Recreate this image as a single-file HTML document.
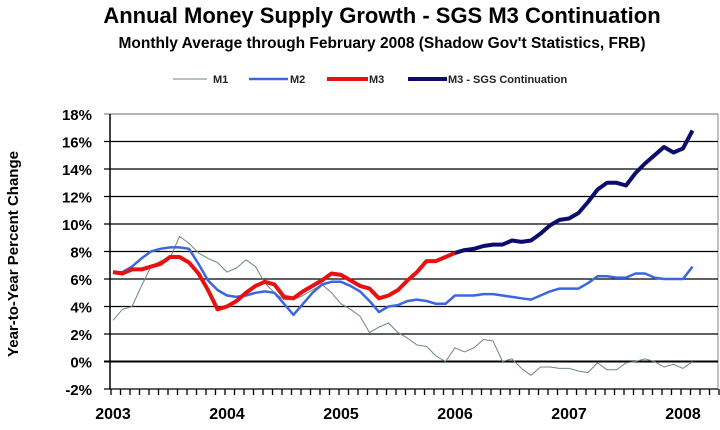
<!DOCTYPE html>
<html><head><meta charset="utf-8"><style>
body{margin:0;background:#fff;width:720px;height:425px;overflow:hidden;font-family:"Liberation Sans",Arial,sans-serif}
</style></head><body>
<svg id="chart" width="720" height="425" xmlns="http://www.w3.org/2000/svg" font-family="Liberation Sans, Arial, sans-serif">
<text x="382" y="23" text-anchor="middle" font-size="22" font-weight="bold">Annual Money Supply Growth - SGS M3 Continuation</text>
<text x="382" y="48" text-anchor="middle" font-size="15.5" font-weight="bold">Monthly Average through February 2008 (Shadow Gov't Statistics, FRB)</text>
<g id="legend" font-size="11" font-weight="bold" fill="#222">
<g><line x1="173" y1="79" x2="207" y2="79" stroke="#6a8a74" stroke-width="1"/><text x="213" y="83">M1</text></g>
<g><line x1="249" y1="79" x2="288" y2="79" stroke="#3a66e0" stroke-width="2.5"/><text x="290" y="83">M2</text></g>
<g><line x1="327" y1="79" x2="368" y2="79" stroke="#e81010" stroke-width="4"/><text x="369" y="83">M3</text></g>
<g><line x1="408" y1="79" x2="447" y2="79" stroke="#0c0c6e" stroke-width="4"/><text x="448" y="83">M3 - SGS Continuation</text></g>
</g>
<text transform="translate(18,254) rotate(-90)" text-anchor="middle" font-size="15" font-weight="bold">Year-to-Year Percent Change</text>
<g id="grid"></g><g id="axes"></g><g id="series"></g>
</svg>
<script>
const months = 62; // Jan 2003 .. Feb 2008
const yTicks = [-2,0,2,4,6,8,10,12,14,16,18];
const yearLabels = ["2003","2004","2005","2006","2007","2008"];
const m1 = [3.0,3.8,4.0,5.5,6.9,7.3,7.5,9.1,8.6,7.9,7.5,7.2,6.5,6.8,7.4,6.9,5.7,5.0,4.5,4.5,4.8,5.2,5.6,5.0,4.2,3.8,3.3,2.1,2.5,2.8,2.1,1.7,1.2,1.1,0.4,0.0,1.0,0.7,1.0,1.6,1.5,0.0,0.2,-0.5,-1.0,-0.4,-0.4,-0.5,-0.5,-0.7,-0.8,-0.1,-0.6,-0.6,-0.1,0.0,0.2,0.0,-0.4,-0.2,-0.5,0.0];
const m2 = [6.5,6.5,6.9,7.5,8.0,8.2,8.3,8.3,8.2,7.1,5.9,5.2,4.8,4.7,4.8,5.0,5.1,5.0,4.2,3.4,4.2,5.0,5.6,5.8,5.8,5.5,5.1,4.4,3.6,4.0,4.1,4.4,4.5,4.4,4.2,4.2,4.8,4.8,4.8,4.9,4.9,4.8,4.7,4.6,4.5,4.8,5.1,5.3,5.3,5.3,5.7,6.2,6.2,6.1,6.1,6.4,6.4,6.1,6.0,6.0,6.0,6.9];
const m3 = [6.5,6.4,6.7,6.7,6.9,7.1,7.6,7.6,7.2,6.4,5.2,3.8,4.0,4.4,5.0,5.5,5.8,5.6,4.7,4.6,5.1,5.5,5.9,6.4,6.3,5.9,5.5,5.3,4.6,4.8,5.2,5.9,6.5,7.3,7.3,7.6,7.9];
const sgs = [7.9,8.1,8.2,8.4,8.5,8.5,8.8,8.7,8.8,9.3,9.9,10.3,10.4,10.8,11.6,12.5,13.0,13.0,12.8,13.7,14.4,15.0,15.6,15.2,15.5,16.8];
const sgsStart = 36;
const L=110,R=718,T=114,B=389;
const x = m => 113 + m*9.5;
const y = v => 361.5 - v*13.75;
const NS="http://www.w3.org/2000/svg";
function mk(tag,attrs,parent){const e=document.createElementNS(NS,tag);for(const k in attrs)e.setAttribute(k,attrs[k]);parent.appendChild(e);return e;}
const grid=document.getElementById('grid'),axes=document.getElementById('axes'),ser=document.getElementById('series');
mk('rect',{x:L,y:T,width:R-L,height:B-T,fill:'none',stroke:'#888','stroke-width':1},grid);
yTicks.forEach(v=>{
  const ln=mk('line',{x1:L-6,x2:R,y1:y(v),y2:y(v),stroke:v===18?'#888':'#000','stroke-width':v===0?2:1.3},grid);
  
  
  const t=mk('text',{x:92,y:y(v)+6,'text-anchor':'end','font-size':15,'font-weight':'bold'},axes);
  t.textContent=v+'%';
  
  
});
const ax=mk('line',{x1:L,x2:L,y1:T,y2:B,stroke:'#000','stroke-width':1.5},axes);


for(let m=0;m<65;m++){
  const tk=mk('line',{x1:x(m)-2,x2:x(m)-2,y1:B,y2:B+6,stroke:'#000','stroke-width':1.3},axes);
  
  
}
yearLabels.forEach((lab,i)=>{
  const t=mk('text',{x:x(i*12),y:419,'text-anchor':'middle','font-size':16,'font-weight':'bold'},axes);
  t.textContent=lab;
  
  
});
function line(data,off,color,w,name){
  const pts=data.map((v,i)=>x(i+off).toFixed(1)+','+y(v).toFixed(1)).join(' ');
  const p=mk('polyline',{points:pts,fill:'none',stroke:color,'stroke-width':w,'stroke-linejoin':'round'},ser);
  
  
}
line(m1,0,'#6a8a74',1,'series-m1');
line(m2,0,'#3a66e0',2.5,'series-m2');
line(m3,0,'#e81010',4,'series-m3');
line(sgs,sgsStart,'#0c0c6e',4,'series-m3-sgs');
</script>
</body></html>
